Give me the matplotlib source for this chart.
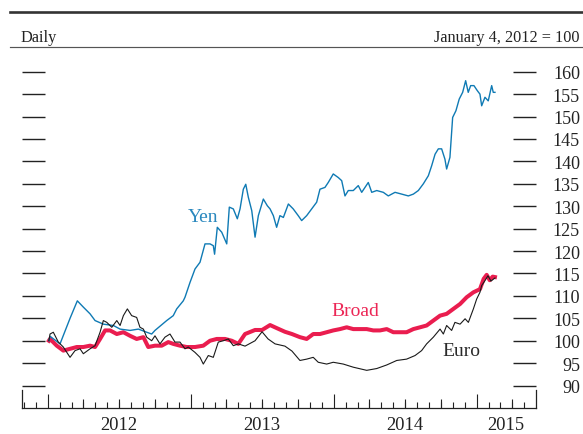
import matplotlib
matplotlib.use("Agg")
import matplotlib.pyplot as plt
from matplotlib.lines import Line2D

plt.rcParams["font.family"] = ["Liberation Serif", "DejaVu Serif"]

# Dollar exchange rates, index levels (January 4, 2012 = 100); time in decimal years
yen_t = [2012.008, 2012.016, 2012.086, 2012.156, 2012.207, 2012.249, 2012.296, 2012.331,
         2012.389, 2012.459, 2012.506, 2012.576, 2012.634, 2012.692, 2012.727, 2012.750,
         2012.832, 2012.878, 2012.902, 2012.948, 2012.960, 2012.995, 2013.030, 2013.065,
         2013.100, 2013.135, 2013.158, 2013.167, 2013.186, 2013.217, 2013.252, 2013.270,
         2013.298, 2013.326, 2013.345, 2013.368, 2013.385, 2013.403, 2013.427, 2013.450,
         2013.473, 2013.508, 2013.536, 2013.555, 2013.578, 2013.601, 2013.624, 2013.648,
         2013.683, 2013.717, 2013.752, 2013.776, 2013.811, 2013.846, 2013.881, 2013.904,
         2013.939, 2013.962, 2013.997, 2014.032, 2014.056, 2014.079, 2014.102, 2014.137,
         2014.172, 2014.196, 2014.242, 2014.266, 2014.301, 2014.347, 2014.382, 2014.429,
         2014.476, 2014.522, 2014.557, 2014.592, 2014.627, 2014.662, 2014.685, 2014.709,
         2014.732, 2014.755, 2014.778, 2014.790, 2014.813, 2014.832, 2014.855, 2014.878,
         2014.902, 2014.923, 2014.941, 2014.958, 2014.981, 2015.004, 2015.023, 2015.035,
         2015.058, 2015.081, 2015.105, 2015.116, 2015.128]
yen_v = [100.0, 101.0, 99.3, 105.0, 108.9, 107.5, 106.0, 104.5,
         103.7, 103.4, 102.6, 102.3, 102.6, 101.9, 101.5, 102.3,
         104.5, 105.6, 107.1, 108.9, 109.7, 113.0, 116.0, 117.5,
         121.6, 121.6, 121.2, 119.3, 125.3, 124.2, 121.6, 129.8,
         129.4, 127.2, 129.4, 133.8, 134.9, 132.0, 129.0, 123.1,
         127.9, 131.6, 130.1, 129.4, 127.9, 125.3, 127.9, 127.5,
         130.5, 129.4, 127.9, 126.8, 127.9, 129.4, 130.9, 133.8,
         134.2, 135.3, 137.2, 136.4, 135.7, 132.3, 133.5, 133.5,
         134.6, 133.1, 135.3, 133.1, 133.5, 133.1, 132.3, 133.1,
         132.7, 132.3, 132.7, 133.5, 135.0, 136.8, 139.0, 141.6,
         142.8, 142.8, 140.5, 138.3, 140.9, 149.8, 151.3, 153.9,
         155.4, 158.0, 155.4, 156.9, 156.9, 155.8, 155.0, 152.4,
         154.3, 153.5, 156.9, 155.4, 155.4]

broad_t = [2012.008, 2012.016, 2012.063, 2012.109, 2012.156, 2012.203, 2012.249, 2012.296,
           2012.331, 2012.366, 2012.401, 2012.436, 2012.483, 2012.529, 2012.576, 2012.622,
           2012.669, 2012.703, 2012.750, 2012.797, 2012.843, 2012.878, 2012.925, 2012.972,
           2013.030, 2013.088, 2013.135, 2013.182, 2013.240, 2013.287, 2013.333, 2013.380,
           2013.450, 2013.499, 2013.555, 2013.603, 2013.659, 2013.708, 2013.764, 2013.811,
           2013.857, 2013.904, 2013.951, 2013.997, 2014.044, 2014.091, 2014.137, 2014.184,
           2014.231, 2014.277, 2014.324, 2014.371, 2014.417, 2014.464, 2014.510, 2014.557,
           2014.604, 2014.650, 2014.697, 2014.744, 2014.790, 2014.837, 2014.884, 2014.930,
           2014.977, 2015.023, 2015.049, 2015.070, 2015.091, 2015.112, 2015.128]
broad_v = [100.0, 100.4, 98.9, 97.8, 98.2, 98.6, 98.6, 98.9,
           98.6, 100.4, 102.3, 102.3, 101.5, 101.9, 101.1, 100.4,
           100.8, 98.6, 98.9, 98.9, 99.7, 99.3, 98.9, 98.6,
           98.6, 98.9, 100.0, 100.4, 100.4, 100.0, 99.3, 101.5,
           102.4, 102.4, 103.5, 102.8, 102.0, 101.5, 100.8, 100.4,
           101.5, 101.5, 101.9, 102.3, 102.6, 103.0, 102.6, 102.6,
           102.6, 102.3, 102.3, 102.6, 101.9, 101.9, 101.9, 102.6,
           103.0, 103.4, 104.5, 105.6, 106.0, 107.1, 108.2, 109.7,
           110.8, 111.5, 113.8, 114.7, 113.5, 114.3, 114.2]

euro_t = [2012.008, 2012.016, 2012.039, 2012.074, 2012.109, 2012.156, 2012.191, 2012.226,
          2012.249, 2012.296, 2012.331, 2012.366, 2012.389, 2012.413, 2012.448, 2012.483,
          2012.506, 2012.529, 2012.557, 2012.587, 2012.622, 2012.645, 2012.669, 2012.692,
          2012.727, 2012.750, 2012.785, 2012.820, 2012.855, 2012.890, 2012.925, 2012.960,
          2012.983, 2013.030, 2013.065, 2013.088, 2013.123, 2013.158, 2013.193, 2013.228,
          2013.263, 2013.298, 2013.333, 2013.380, 2013.450, 2013.499, 2013.541, 2013.590,
          2013.659, 2013.708, 2013.764, 2013.811, 2013.857, 2013.892, 2013.951, 2013.997,
          2014.067, 2014.137, 2014.231, 2014.301, 2014.371, 2014.441, 2014.510, 2014.569,
          2014.615, 2014.650, 2014.697, 2014.744, 2014.767, 2014.790, 2014.825, 2014.848,
          2014.884, 2014.919, 2014.942, 2014.977, 2015.000, 2015.023, 2015.035, 2015.058,
          2015.079, 2015.100, 2015.128]
euro_v = [100.0, 101.5, 101.9, 99.7, 98.6, 96.3, 97.8, 98.2,
          97.1, 98.2, 98.9, 101.9, 104.5, 104.1, 103.0, 104.5,
          103.4, 105.6, 107.1, 105.6, 105.2, 103.0, 102.6, 100.8,
          100.0, 101.1, 99.3, 100.8, 101.5, 99.7, 99.7, 98.2,
          98.6, 97.4, 96.3, 94.8, 96.7, 96.3, 99.7, 100.0,
          100.4, 98.9, 99.3, 98.8, 100.0, 102.0, 100.4, 99.3,
          98.8, 97.7, 95.6, 95.9, 96.3, 95.2, 94.8, 95.2,
          94.8, 94.1, 93.4, 93.8, 94.6, 95.6, 95.9, 96.7,
          97.8, 99.3, 100.8, 102.6, 101.5, 103.4, 102.3, 104.1,
          103.7, 104.9, 104.1, 107.1, 109.3, 110.8, 112.3, 113.4,
          114.5, 113.3, 114.0]

y_ticks = list(range(90, 161, 5))
year_ticks = [2012, 2013, 2014, 2015]
year_labels = ["2012", "2013", "2014", "2015"]
year_label_pos = [2012.5, 2013.5, 2014.5, 2015.205]

YEN_C = "#0f7ab4"
BROAD_C = "#ea1d4f"
EURO_C = "#1a1a1a"
INK = "#222222"

W, H = 583, 435
fig = plt.figure(figsize=(W / 100, H / 100), dpi=100)
ax = fig.add_axes([22 / W, 1 - 409 / H, (536 - 22) / W, (409 - 50.3) / H])

ax.plot(broad_t, broad_v, color=BROAD_C, lw=2.9, zorder=3, solid_joinstyle="round")
ax.plot(yen_t, yen_v, color=YEN_C, lw=1.0, zorder=4)
ax.plot(euro_t, euro_v, color=EURO_C, lw=0.8, zorder=5)

ax.set_xlim(2011.820, 2015.415)
ax.set_ylim(85, 165)

# series labels
ax.text(2013.088, 126.8, "Yen", color="#2a88be", fontsize=14, ha="center", va="baseline")
ax.text(2014.149, 105.75, "Broad", color="#ec2756", fontsize=14, ha="center", va="baseline")
ax.text(2014.891, 96.83, "Euro", color="#2b2b2b", fontsize=14, ha="center", va="baseline")

# spines: bottom rule plus short end caps
ax.spines["top"].set_visible(False)
for side in ("left", "right"):
    ax.spines[side].set_bounds(85, 85 + 18 / 358.7 * 80)
    ax.spines[side].set_color(INK)
    ax.spines[side].set_linewidth(0.9)
ax.spines["bottom"].set_color(INK)
ax.spines["bottom"].set_linewidth(0.9)

# y ticks: inward on both sides, labels on the right only
ax.set_yticks(y_ticks)
ax.set_yticklabels([str(v) for v in y_ticks])
ax.tick_params(axis="y", which="major", left=True, right=True, labelleft=False,
               labelright=True, direction="in", length=16.8, width=1.0, color=INK,
               labelsize=13, labelcolor=INK, pad=31.7)
for tk in ax.yaxis.get_major_ticks():
    tk.label2.set_horizontalalignment("right")

# x ticks: years long, months short, quarters medium
ax.set_xticks(year_ticks)
ax.set_xticklabels([])
ax.set_xticks([y + m / 12 for y in range(2011, 2016) for m in range(12)
               if 2011.82 < y + m / 12 < 2015.415], minor=True)
ax.tick_params(axis="x", which="major", direction="in", length=10.2, width=0.8,
               color=INK, labelbottom=False)
ax.tick_params(axis="x", which="minor", direction="in", length=4.0, width=0.8, color=INK)

sec = ax.secondary_xaxis("bottom")
sec.set_xticks([y + q / 4 for y in range(2012, 2016) for q in (1, 2, 3)
                if y + q / 4 < 2015.415])
sec.tick_params(axis="x", which="both", direction="in", length=6.2, width=0.8,
                color=INK, labelbottom=False)
sec.xaxis.set_minor_locator(matplotlib.ticker.NullLocator())
sec.spines["bottom"].set_visible(False)

for pos, lab in zip(year_label_pos, year_labels):
    ax.annotate(lab, xy=(pos, 0), xycoords=("data", "axes fraction"),
                xytext=(0, -5.5), textcoords="offset points",
                ha="center", va="top", fontsize=13.3, color=INK)

# header rules and captions
fig.add_artist(Line2D([10 / W, 1.0], [1 - 13 / H] * 2, lw=1.9, color="#333333"))
fig.add_artist(Line2D([10 / W, 1.0], [1 - 47.5 / H] * 2, lw=0.85, color="#555555"))
fig.text(20 / W, 1 - 41.5 / H, "Daily", ha="left", va="baseline", fontsize=11.7, color=INK)
fig.text(580 / W, 1 - 41.5 / H, "January 4, 2012 = 100", ha="right", va="baseline",
         fontsize=11.7, color=INK)

fig.savefig("out.png", dpi=100)
